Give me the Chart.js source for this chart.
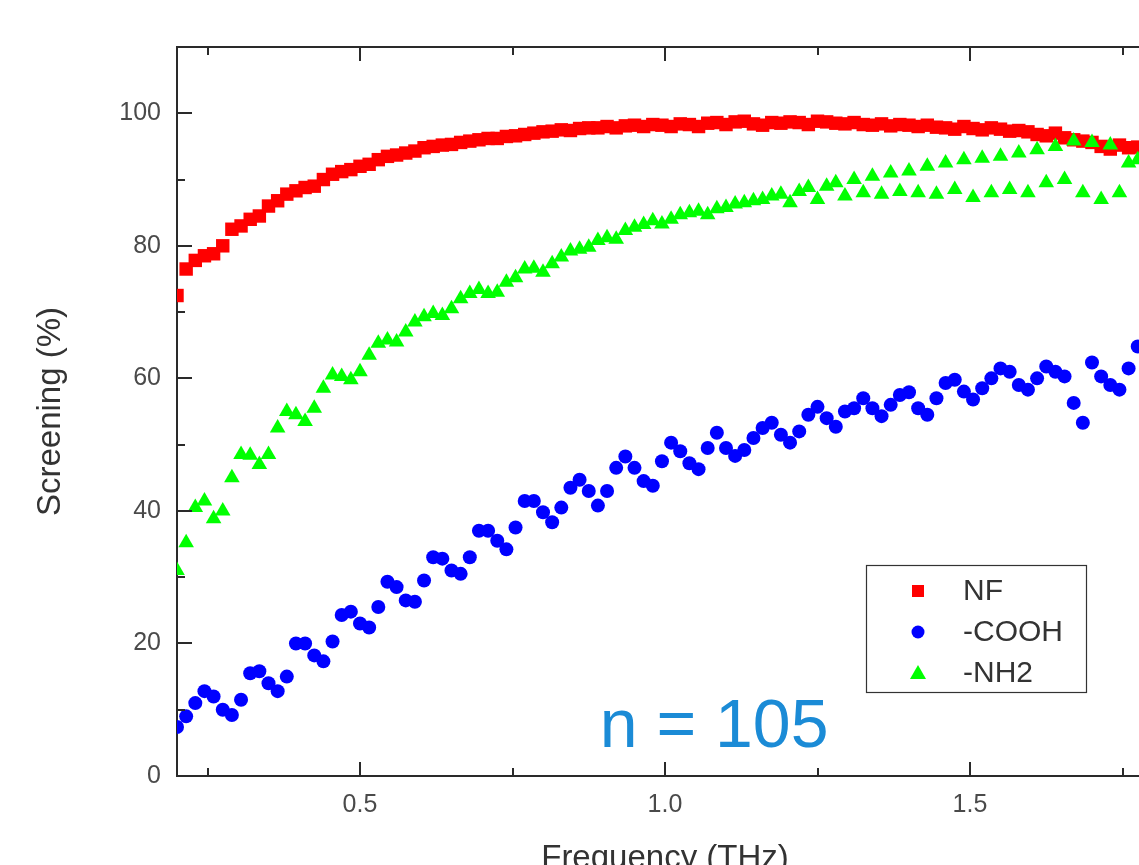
<!DOCTYPE html>
<html>
<head>
<meta charset="utf-8">
<script src="https://cdn.jsdelivr.net/npm/chart.js@4/dist/chart.umd.min.js"></script>
<style>
  html, body { margin: 0; padding: 0; background: #fff; overflow: hidden; width: 1139px; height: 865px; }
  #wrap { position: absolute; left: 0; top: 0; width: 1180px; height: 900px; }
</style>
</head>
<body>
<div id="wrap"><canvas id="c" width="1180" height="900"></canvas></div>
<script>
// ---- data ----
const freq = [
0.200,0.215,0.230,0.245,0.260,0.275,0.290,0.305,0.320,0.335,
0.350,0.365,0.380,0.395,0.410,0.425,0.440,0.455,0.470,0.485,
0.500,0.515,0.530,0.545,0.560,0.575,0.590,0.605,0.620,0.635,
0.650,0.665,0.680,0.695,0.710,0.725,0.740,0.755,0.770,0.785,
0.800,0.815,0.830,0.845,0.860,0.875,0.890,0.905,0.920,0.935,
0.950,0.965,0.980,0.995,1.010,1.025,1.040,1.055,1.070,1.085,
1.100,1.115,1.130,1.145,1.160,1.175,1.190,1.205,1.220,1.235,
1.250,1.265,1.280,1.295,1.310,1.325,1.340,1.355,1.370,1.385,
1.400,1.415,1.430,1.445,1.460,1.475,1.490,1.505,1.520,1.535,
1.550,1.565,1.580,1.595,1.610,1.625,1.640,1.655,1.670,1.685,
1.700,1.715,1.730,1.745,1.760,1.775];

const nfValues = [
72.5,76.5,77.8,78.5,78.8,80.0,82.5,83.0,84.0,84.5,
86.0,86.8,87.8,88.3,88.8,89.0,90.0,90.8,91.2,91.5,
92.0,92.3,93.0,93.5,93.7,94.0,94.3,94.8,95.0,95.2,
95.3,95.6,95.8,96.0,96.2,96.2,96.5,96.6,96.8,97.0,
97.2,97.3,97.5,97.4,97.7,97.8,97.8,98.0,97.8,98.1,
98.2,98.0,98.3,98.2,98.0,98.4,98.3,98.0,98.5,98.6,
98.3,98.7,98.8,98.4,98.2,98.6,98.5,98.7,98.6,98.3,
98.8,98.7,98.5,98.4,98.6,98.3,98.2,98.4,98.1,98.3,
98.2,98.0,98.2,97.9,97.8,97.6,98.0,97.7,97.5,97.8,
97.6,97.3,97.4,97.2,96.8,96.6,97.0,96.3,96.0,95.8,
95.6,95.0,94.6,95.2,94.8,94.9];

const coohValues = [
7.4,9.0,11.0,12.8,12.0,10.0,9.2,11.5,15.5,15.8,
14.0,12.8,15.0,20.0,20.0,18.2,17.3,20.3,24.3,24.8,
23.0,22.4,25.5,29.3,28.5,26.5,26.3,29.5,33.0,32.8,
31.0,30.5,33.0,37.0,37.0,35.5,34.2,37.5,41.5,41.5,
39.8,38.3,40.5,43.5,44.7,43.0,40.8,43.0,46.5,48.2,
46.5,44.5,43.8,47.5,50.3,49.0,47.2,46.3,49.5,51.8,
49.5,48.3,49.2,51.0,52.5,53.3,51.5,50.3,52.0,54.5,
55.7,54.0,52.7,55.0,55.5,57.0,55.5,54.3,56.0,57.5,
57.9,55.5,54.5,57.0,59.3,59.8,58.0,56.8,58.5,60.0,
61.5,61.0,59.0,58.3,60.0,61.8,61.0,60.3,56.3,53.3,
62.4,60.3,59.0,58.3,61.5,64.8];

const nh2Values = [
31.0,35.2,40.5,41.5,38.8,40.0,45.0,48.5,48.4,47.0,
48.5,52.5,55.0,54.5,53.5,55.5,58.5,60.5,60.3,59.8,
61.0,63.5,65.3,65.8,65.5,67.0,68.5,69.3,69.8,69.5,
70.5,72.0,72.8,73.4,72.8,73.0,74.5,75.2,76.5,76.6,
76.0,77.3,78.3,79.2,79.5,79.8,80.8,81.2,81.0,82.3,
82.8,83.2,83.8,83.3,84.0,84.7,85.0,85.2,84.7,85.6,
85.8,86.3,86.5,86.8,87.0,87.5,87.8,86.5,88.2,88.8,
87.0,89.0,89.5,87.5,90.0,88.0,90.5,87.8,91.0,88.2,
91.3,88.0,92.0,87.8,92.5,88.5,93.0,87.3,93.2,88.0,
93.5,88.5,94.0,88.0,94.5,89.5,95.0,90.0,95.8,88.0,
95.6,87.0,95.2,88.0,92.5,93.0];

const seriesNames = ['NF', '-COOH', '-NH2'];
const xTickValues = [0.5, 1.0, 1.5];
const xTickLabels = ['0.5', '1.0', '1.5'];
const xMinorTicks = [0.25, 0.75, 1.25, 1.75];
const yTickValues = [0, 20, 40, 60, 80, 100];
const yTickLabels = ['0', '20', '40', '60', '80', '100'];
const yMinorTicks = [10, 30, 50, 70, 90];
const annotationText = 'n = 105';

const toPoints = (vals) => vals.map((v, i) => ({ x: freq[i], y: v }));

const FONT = '"Liberation Sans", Arial, sans-serif';
const AXIS_COLOR = '#2a2a2a';

const decorPlugin = {
  id: 'decor',
  afterDraw(chart) {
    const { ctx, chartArea: a, scales: { x, y } } = chart;
    ctx.save();
    ctx.strokeStyle = AXIS_COLOR;
    ctx.lineWidth = 2;
    ctx.beginPath();
    ctx.moveTo(a.left, a.top); ctx.lineTo(a.right, a.top);
    ctx.moveTo(a.right, a.top); ctx.lineTo(a.right, a.bottom);
    ctx.stroke();
    const tickX = (v, len) => {
      const px = Math.round(x.getPixelForValue(v));
      ctx.beginPath();
      ctx.moveTo(px, a.bottom); ctx.lineTo(px, a.bottom - len);
      ctx.moveTo(px, a.top); ctx.lineTo(px, a.top + len);
      ctx.stroke();
    };
    const tickY = (v, len) => {
      const py = Math.round(y.getPixelForValue(v));
      ctx.beginPath();
      ctx.moveTo(a.left, py); ctx.lineTo(a.left + len, py);
      ctx.stroke();
    };
    xTickValues.forEach(v => tickX(v, 14));
    xMinorTicks.forEach(v => tickX(v, 8));
    yTickValues.forEach(v => tickY(v, 15));
    yMinorTicks.forEach(v => tickY(v, 8));

    ctx.fillStyle = '#1b8bd6';
    ctx.font = '68px ' + FONT;
    ctx.textAlign = 'left';
    ctx.textBaseline = 'alphabetic';
    ctx.fillText(annotationText, x.getPixelForValue(0.893), y.getPixelForValue(4.4));

    const bx = 866, by = 565, bw = 220, bh = 127;
    ctx.fillStyle = '#ffffff';
    ctx.fillRect(bx, by, bw, bh);
    ctx.strokeStyle = '#333';
    ctx.lineWidth = 1.2;
    ctx.strokeRect(bx + 0.5, by + 0.5, bw, bh);
    chart.data.datasets.forEach((ds, i) => {
      const cy = by + 26 + i * 41;
      ctx.fillStyle = ds.backgroundColor;
      const style = ds.pointStyle;
      ctx.beginPath();
      if (style === 'rect') {
        ctx.fillRect(918 - 6, cy - 6, 12, 12);
      } else if (style === 'circle') {
        ctx.arc(918, cy, 6.5, 0, Math.PI * 2);
        ctx.fill();
      } else {
        ctx.moveTo(918, cy - 8); ctx.lineTo(926, cy + 6); ctx.lineTo(910, cy + 6); ctx.closePath();
        ctx.fill();
      }
      ctx.fillStyle = '#333';
      ctx.font = '30px ' + FONT;
      ctx.textBaseline = 'middle';
      ctx.fillText(ds.label, 963, cy + 1);
    });
    ctx.restore();
  }
};

const markerSize = { NF: 9.5, '-COOH': 7, '-NH2': 9 };

new Chart(document.getElementById('c'), {
  type: 'scatter',
  data: {
    datasets: [
      { label: seriesNames[0], data: toPoints(nfValues), pointStyle: 'rect', backgroundColor: '#ff0000', borderColor: '#ff0000', pointRadius: markerSize.NF, radius: markerSize.NF, pointBorderWidth: 0, order: 3 },
      { label: seriesNames[1], data: toPoints(coohValues), pointStyle: 'circle', backgroundColor: '#0000ff', borderColor: '#0000ff', pointRadius: markerSize['-COOH'], radius: markerSize['-COOH'], pointBorderWidth: 0, order: 2 },
      { label: seriesNames[2], data: toPoints(nh2Values), pointStyle: 'triangle', backgroundColor: '#00ff00', borderColor: '#00ff00', pointRadius: markerSize['-NH2'], radius: markerSize['-NH2'], pointBorderWidth: 0, order: 1 }
    ]
  },
  options: {
    responsive: false,
    animation: false,
    devicePixelRatio: 1,
    elements: { point: { radius: (c) => markerSize[c.dataset.label] || 7 } },
    layout: { padding: { top: 47, right: 27, left: 0, bottom: 0 } },
    plugins: { legend: { display: false }, tooltip: { enabled: false } },
    scales: {
      x: {
        type: 'linear', min: 0.2, max: 1.8,
        afterBuildTicks: (s) => { s.ticks = xTickValues.map(v => ({ value: v })); },
        afterFit: (s) => { s.height = 124; },
        ticks: {
          callback: (v) => xTickLabels[xTickValues.indexOf(v)],
          font: { family: FONT, size: 25 }, color: '#4a4a4a', padding: 14, maxRotation: 0
        },
        grid: { display: false, drawTicks: false },
        border: { display: true, color: AXIS_COLOR, width: 2 },
        title: { display: true, text: 'Frequency (THz)', font: { family: FONT, size: 33 }, color: '#333', padding: { top: 23, bottom: 21 } }
      },
      y: {
        type: 'linear', min: 0, max: 110,
        afterBuildTicks: (s) => { s.ticks = yTickValues.map(v => ({ value: v })); },
        afterFit: (s) => { s.width = 177; },
        ticks: {
          callback: (v) => yTickLabels[yTickValues.indexOf(v)],
          font: { family: FONT, size: 25 }, color: '#4a4a4a', padding: 16
        },
        grid: { display: false, drawTicks: false },
        border: { display: true, color: AXIS_COLOR, width: 2 },
        title: { display: true, text: 'Screening (%)', font: { family: FONT, size: 33 }, color: '#333', padding: { top: 31, bottom: 31 } }
      }
    }
  },
  plugins: [decorPlugin]
});
</script>
</body>
</html>
